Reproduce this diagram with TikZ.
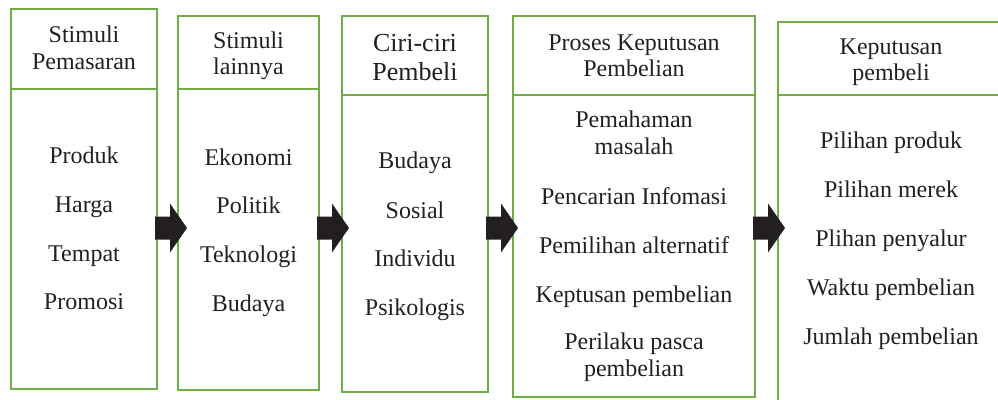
\documentclass[tikz,border=0pt]{standalone}
\usepackage{fontspec}
\setmainfont{Liberation Serif}
\definecolor{grn}{HTML}{70AD47}
\definecolor{ink}{HTML}{231F20}
\newcommand{\blkarrow}[1]{%
  \path (#1.east) ++(-2,0) coordinate (#1s);
  \fill[ink] (#1s |- 0,216.5) -- ++(15,0) -- ++(0,-13) -- ++(17,24.5)
    -- ++(-17,24.5) -- ++(0,-13) -- ++(-15,0) -- cycle;}
\begin{document}
\begin{tikzpicture}[x=1pt,y=-1pt,
  box/.style={draw=grn, line width=2.6pt, inner sep=0pt, outer sep=0pt, anchor=north west},
  txt/.style={font=\fontsize{24}{26.5}\selectfont, text=ink, align=center, inner sep=0pt},
  itm/.style={txt, anchor=base},
  big/.style={font=\fontsize{26}{29}\selectfont}]
\useasboundingbox (0,0) rectangle (998,399);
% boxes
\node[box, minimum width=146pt, minimum height=380pt] (b1) at (11,9) {};
\node[box, minimum width=141pt, minimum height=374pt] (b2) at (178,16) {};
\node[box, minimum width=146pt, minimum height=376pt] (b3) at (342,16) {};
\node[box, minimum width=242pt, minimum height=381pt] (b4) at (513,16) {};
\node[box, minimum width=230pt, minimum height=400pt] (b5) at (778,22) {};
% dividers
\draw[grn, line width=2.6pt] (b1.west |- 0,89) -- (b1.east |- 0,89);
\draw[grn, line width=2.6pt] (b2.west |- 0,89) -- (b2.east |- 0,89);
\draw[grn, line width=2.6pt] (b3.west |- 0,95) -- (b3.east |- 0,95);
\draw[grn, line width=2.6pt] (b4.west |- 0,95) -- (b4.east |- 0,95);
\draw[grn, line width=2.6pt] (b5.west |- 0,95) -- (b5.east |- 0,95);
% headers
\node[txt] (h1) at (84,48) {Stimuli\\Pemasaran};
\node[txt] (h2) at (248.5,56) {Stimuli\\lainnya};
\node[txt, big] (h3) at (415,58) {Ciri-ciri\\Pembeli};
\node[txt] (h4) at (634,56) {Proses Keputusan\\Pembelian};
\node[txt] (h5) at (891,62) {Keputusan\\pembeli};
% box 1
\node[itm] (p1) at (84,163) {Produk};
\node[itm] (p2) at (84,212) {Harga};
\node[itm] (p3) at (84,261) {Tempat};
\node[itm] (p4) at (84,309) {Promosi};
% box 2
\node[itm] (e1) at (248.5,165) {Ekonomi};
\node[itm] (e2) at (248.5,213) {Politik};
\node[itm] (e3) at (248.5,262) {Teknologi};
\node[itm] (e4) at (248.5,311) {Budaya};
% box 3
\node[itm] (c1) at (415,168) {Budaya};
\node[itm] (c2) at (415,218) {Sosial};
\node[itm] (c3) at (415,266) {Individu};
\node[itm] (c4) at (415,315) {Psikologis};
% box 4
\node[txt] (k1) at (634,133) {Pemahaman\\masalah};
\node[itm] (k2) at (634,204) {Pencarian Infomasi};
\node[itm] (k3) at (634,253) {Pemilihan alternatif};
\node[itm] (k4) at (634,302) {Keptusan pembelian};
\node[txt] (k5) at (634,357) {Perilaku pasca\\pembelian};
% box 5
\node[itm] (d1) at (891,148) {Pilihan produk};
\node[itm] (d2) at (891,197) {Pilihan merek};
\node[itm] (d3) at (891,246) {Plihan penyalur};
\node[itm] (d4) at (891,295) {Waktu pembelian};
\node[itm] (d5) at (891,344) {Jumlah pembelian};
% arrows
\blkarrow{b1}
\blkarrow{b2}
\blkarrow{b3}
\blkarrow{b4}
\end{tikzpicture}
\end{document}
